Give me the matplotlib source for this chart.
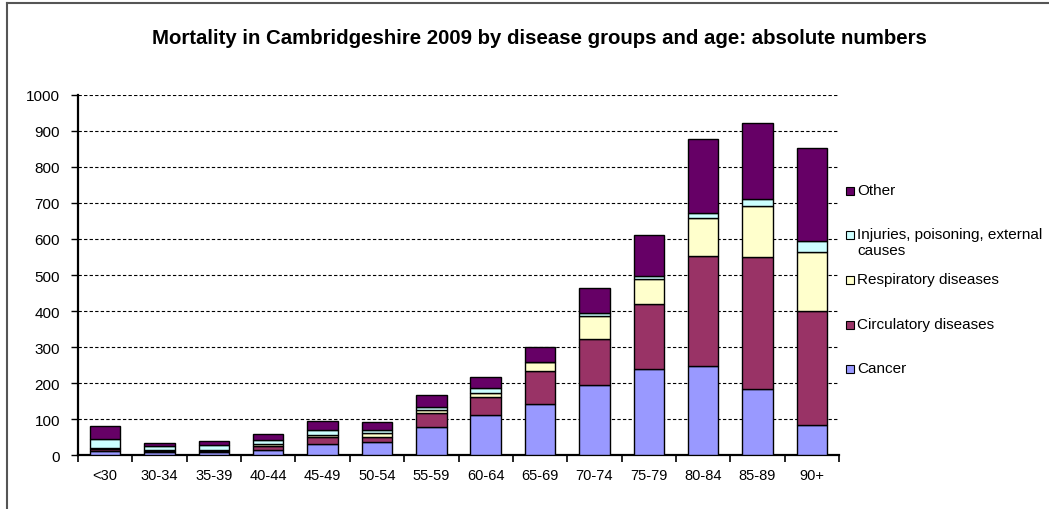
import numpy as np
import matplotlib.pyplot as plt
from matplotlib.lines import Line2D
from matplotlib.patches import Rectangle

plt.rcParams['font.family'] = ['Liberation Sans', 'DejaVu Sans']

age_groups = ['<30', '30-34', '35-39', '40-44', '45-49', '50-54', '55-59',
              '60-64', '65-69', '70-74', '75-79', '80-84', '85-89', '90+']
cancer = [12, 7, 7, 14, 30, 36, 79, 111, 143, 194, 240, 247, 182, 83]
circulatory = [4, 4, 3, 11, 21, 15, 37, 51, 89, 127, 179, 307, 368, 317]
respiratory = [3, 3, 3, 6, 5, 9, 9, 11, 25, 65, 70, 103, 143, 164]
injuries = [25, 10, 15, 11, 13, 9, 8, 14, 2, 8, 9, 14, 18, 31]
other = [37, 8, 12, 16, 25, 22, 33, 29, 42, 71, 113, 207, 210, 258]

series = [('Cancer', cancer, '#9999ff'),
          ('Circulatory diseases', circulatory, '#993366'),
          ('Respiratory diseases', respiratory, '#ffffcc'),
          ('Injuries, poisoning, external\ncauses', injuries, '#ccffff'),
          ('Other', other, '#660066')]

W, H = 1049, 510
fig = plt.figure(figsize=(W / 100, H / 100), dpi=100)
ax = fig.add_axes([78 / W, 1 - 456 / H, (839 - 78) / W, (456 - 96) / H])

x = np.arange(len(age_groups))
bottom = np.zeros(len(age_groups))
for name, vals, color in series:
    ax.bar(x, vals, 0.56, bottom=bottom, color=color, edgecolor='black',
           linewidth=1.0, zorder=3)
    bottom += np.array(vals)

ax.set_xlim(-0.5, len(age_groups) - 0.5)
ax.set_ylim(0, 1000)
ax.set_yticks(np.arange(0, 1001, 100))
ax.yaxis.grid(True, linestyle=(0, (3, 2)), color='black', linewidth=0.8, zorder=0)
ax.set_xticks(x)
ax.set_xticklabels(age_groups)
ax.set_xticks(np.arange(-0.5, len(age_groups)), minor=True)
ax.tick_params(axis='x', which='major', length=0, pad=9, labelsize=10.5)
ax.tick_params(axis='x', which='minor', length=5, width=1.2, direction='out')
ax.tick_params(axis='y', length=5, width=1, direction='out', pad=8, labelsize=11)
for side in ('top', 'right'):
    ax.spines[side].set_visible(False)
for side in ('left', 'bottom'):
    ax.spines[side].set_linewidth(1.6)

fig.text(539 / W, 1 - 38 / H,
         'Mortality in Cambridgeshire 2009 by disease groups and age: absolute numbers',
         ha='center', va='center', fontsize=14.7, fontweight='bold')

# legend drawn by hand, top entry first (y in pixels from the top)
legend_rows = [('Other', 192), ('Injuries, poisoning, external\ncauses', 236),
               ('Respiratory diseases', 281), ('Circulatory diseases', 326),
               ('Cancer', 370)]
colors = {name: color for name, _, color in series}
for label, ypix in legend_rows:
    fig.patches.append(Rectangle((846 / W, 1 - (ypix + 4) / H), 8 / W, 8 / H,
                                 facecolor=colors[label], edgecolor='black',
                                 linewidth=0.8, transform=fig.transFigure))
    fig.text(857 / W, 1 - (ypix - 8) / H, label, ha='left', va='top',
             fontsize=11, linespacing=1.2)

# chart frame
fig.add_artist(Line2D([7 / W, 7 / W], [0, 1 - 4 / H], color='#555555', linewidth=1.5))
fig.add_artist(Line2D([7 / W, 1], [1 - 4 / H, 1 - 4 / H], color='#555555', linewidth=1.5))

fig.savefig('out.png', dpi=100)
